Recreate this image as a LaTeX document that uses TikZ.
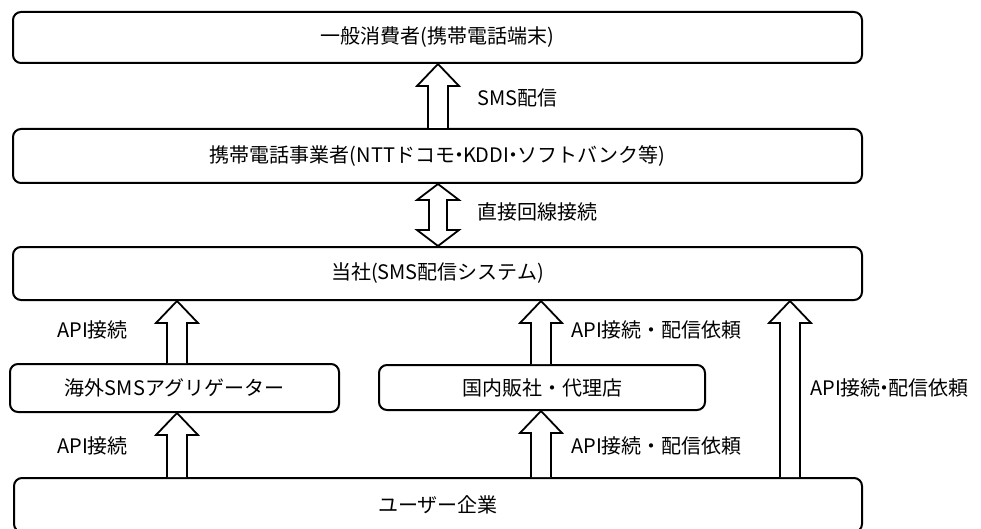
\documentclass[tikz,border=0pt]{standalone}
\usepackage{fontspec}
\setmainfont{Noto Sans CJK JP}[CharacterWidth=Proportional]
\usetikzlibrary{calc}

\tikzset{
  box/.style={draw, line width=2pt, rounded corners=8pt, inner sep=0pt, font=\fontsize{20}{24}\selectfont},
  fat/.style={draw, line width=1.8pt, fill=white, line join=miter},
  lbl/.style={anchor=west, inner sep=0pt, font=\fontsize{20}{24}\selectfont},
}

% narrow middle dot
\newcommand{\nakaten}{\kern-0.3em・\kern-0.3em}
% hollow block arrow, from #1 up to #2 at the x of #3
\newcommand{\fatup}[3]{%
  \draw[fat] ($(#1.north-|#3)+(-10,0)$) -- ($(#2.south-|#3)+(-10,22)$) -- ($(#2.south-|#3)+(-21,22)$)
  -- (#2.south-|#3) -- ($(#2.south-|#3)+(21,22)$) -- ($(#2.south-|#3)+(10,22)$) -- ($(#1.north-|#3)+(10,0)$);}
% hollow block arrow with two heads
\newcommand{\fatboth}[3]{%
  \draw[fat] ($(#1.south-|#3)+(-9,16)$) -- ($(#1.south-|#3)+(-21,16)$) -- (#1.south-|#3) -- ($(#1.south-|#3)+(21,16)$)
  -- ($(#1.south-|#3)+(9,16)$) -- ($(#2.north-|#3)+(9,-16)$) -- ($(#2.north-|#3)+(21,-16)$) -- (#2.north-|#3)
  -- ($(#2.north-|#3)+(-21,-16)$) -- ($(#2.north-|#3)+(-9,-16)$) -- cycle;}

\begin{document}
\begin{tikzpicture}[x=1pt,y=-1pt]
\useasboundingbox (0,0) rectangle (981,529);
\node[box, minimum width=849pt, minimum height=51pt] (consumer) at (437.5,37.5) {一般消費者（携帯電話端末）};
\node[box, minimum width=849pt, minimum height=54pt] (carrier) at (437.5,156) {携帯電話事業者（NTTドコモ\nakaten KDDI\nakaten ソフトバンク等）};
\node[box, minimum width=849pt, minimum height=53pt] (tousha) at (437.5,273.5) {当社（SMS配信システム）};
\node[box, minimum width=329pt, minimum height=48pt] (overseas) at (174.5,388) {海外SMSアグリゲーター};
\node[box, minimum width=326pt, minimum height=45pt] (domestic) at (542,387.5) {国内販社・代理店};
\node[box, minimum width=848pt, minimum height=54pt] (user) at (438,505) {ユーザー企業};

\coordinate (amid) at (438,0);
\coordinate (aleft) at (177,0);
\coordinate (adom) at (541,0);
\coordinate (aright) at (790,0);

\fatup{carrier}{consumer}{amid}
\fatboth{carrier}{tousha}{amid}
\fatup{overseas}{tousha}{aleft}
\fatup{user}{overseas}{aleft}
\fatup{domestic}{tousha}{adom}
\fatup{user}{domestic}{adom}
\fatup{user}{tousha}{aright}

\node[lbl] (lsms) at (477,98) {SMS配信};
\node[lbl] (lline) at (477,212) {直接回線接続};
\node[lbl] (lapi1) at (57,330) {API接続};
\node[lbl] (lapi2) at (57,446) {API接続};
\node[lbl] (ldom1) at (571,330) {API接続・配信依頼};
\node[lbl] (ldom2) at (571,446) {API接続・配信依頼};
\node[lbl] (lright) at (810,388) {API接続\nakaten 配信依頼};
\end{tikzpicture}
\end{document}
